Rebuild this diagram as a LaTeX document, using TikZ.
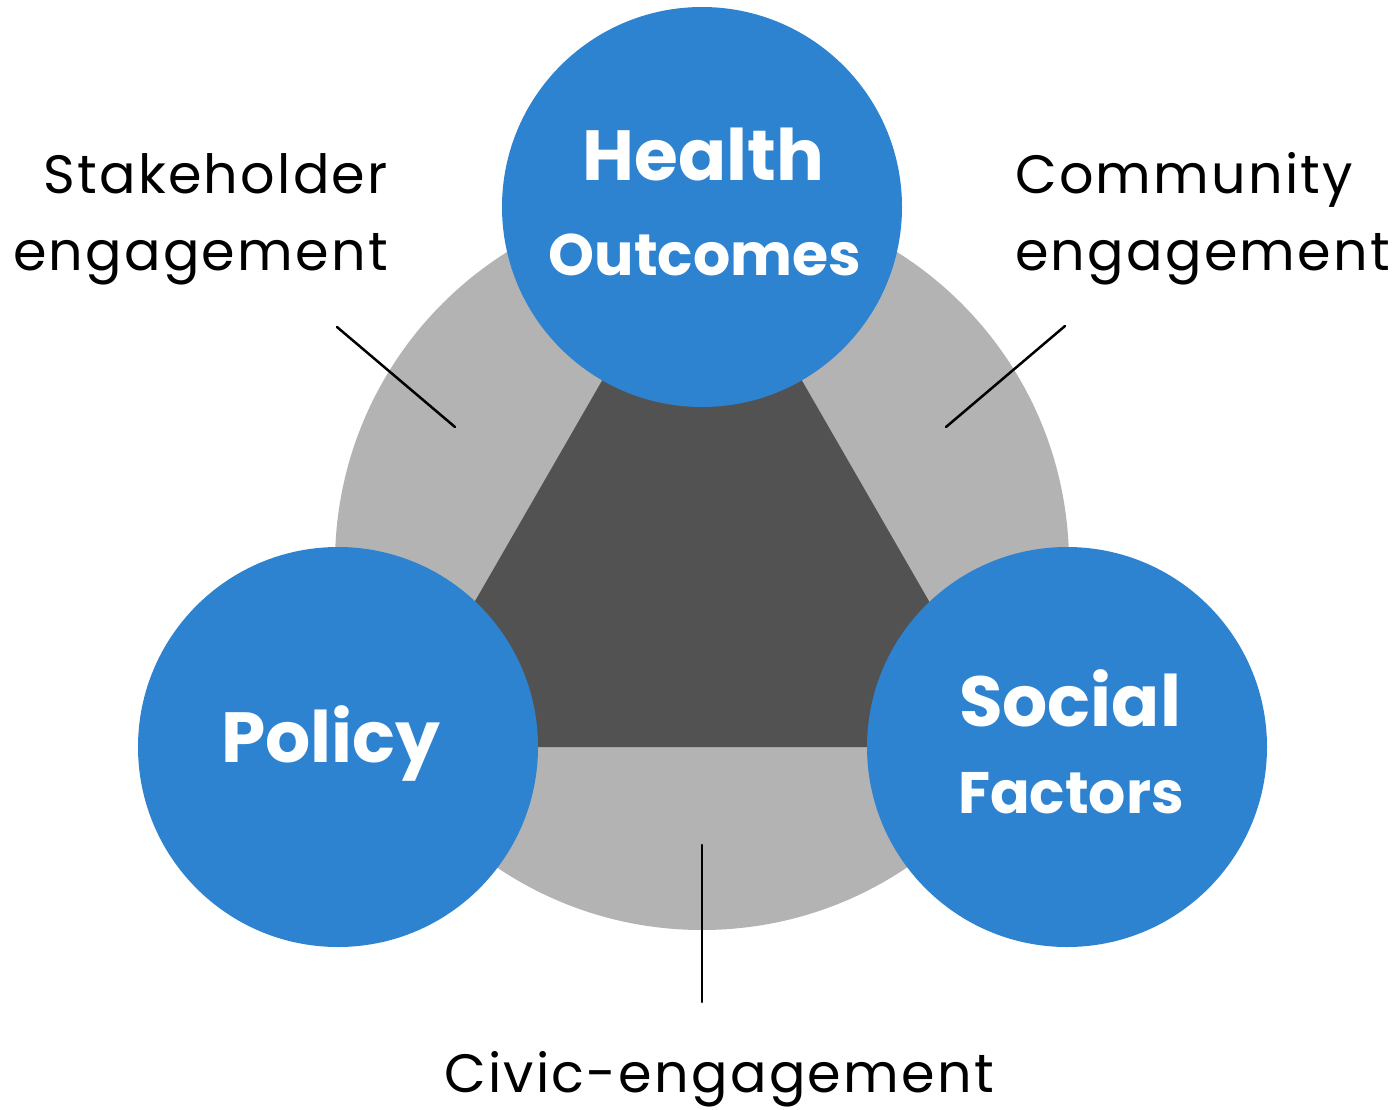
\documentclass[tikz,border=0pt]{standalone}
\usepackage{fontspec}
\setmainfont{Poppins}
\newfontfamily\lblfont[LetterSpace=4.2]{Poppins}
\definecolor{blueC}{HTML}{2E83D0}
\definecolor{lightG}{HTML}{B3B3B3}
\definecolor{darkG}{HTML}{525252}
\tikzset{
  bluecirc/.style={circle, fill=blueC, minimum size=400pt, inner sep=0pt},
  titlebig/.style={text=white, font=\bfseries\fontsize{71}{80}\selectfont, inner sep=0pt, anchor=base},
  titlesmall/.style={text=white, font=\bfseries\fontsize{58.5}{66}\selectfont, inner sep=0pt, anchor=base},
  lbl/.style={font=\lblfont\fontsize{54}{77}\selectfont, inner sep=0pt},
  leader/.style={line width=2.5pt, black, line cap=round}
}
\begin{document}
\begin{tikzpicture}[x=1pt,y=-1pt]
\useasboundingbox (0,0) rectangle (1400,1109);
% background disk and triangle
\fill[lightG] (702,563) circle (367);
\fill[darkG] (702,207) -- (391,747) -- (1013,747) -- cycle;
% leader end points
\coordinate (sA) at (337,327);
\coordinate (sB) at (455,427);
\coordinate (cA) at (1065,326);
\coordinate (cB) at (946,427);
\coordinate (vA) at (702,845);
\coordinate (vB) at (702,1002);
\draw[leader] (sA) -- (sB);
\draw[leader] (cA) -- (cB);
\draw[leader] (vA) -- (vB);
% circles
\node[bluecirc] (health) at (702,207) {};
\node[bluecirc] (policy) at (338,747) {};
\node[bluecirc] (social) at (1067,747) {};
% circle texts
\node[titlebig] (healthA) at (703.5,180) {Health};
\node[titlesmall] (healthB) at (705,275) {Outcomes};
\node[titlebig] (policyA) at (331,762) {Policy};
\node[titlebig] (socialA) at (1070,726) {Social};
\node[titlesmall] (socialB) at (1071,813) {Factors};
% labels
\node[lbl, anchor=base east] (stake1) at (388,193) {Stakeholder};
\node[lbl, anchor=base east] (stake2) at (388,270) {engagement};
\node[lbl, anchor=base west] (comm1) at (1015,193) {Community};
\node[lbl, anchor=base west] (comm2) at (1015,270) {engagement};
\node[lbl, anchor=base] (civic) at (719,1092) {Civic-engagement};
\end{tikzpicture}
\end{document}
